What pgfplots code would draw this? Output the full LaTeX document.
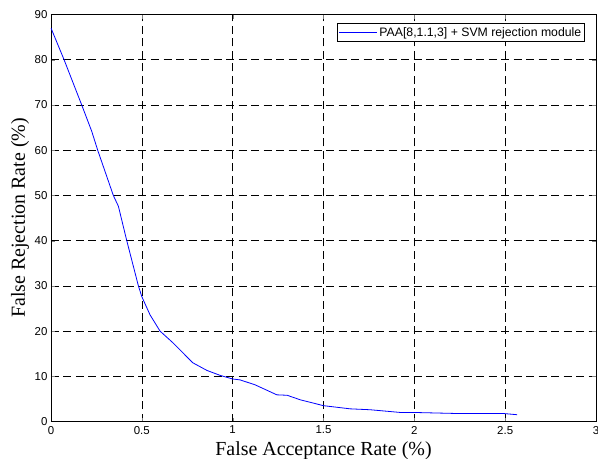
\documentclass[border=0pt]{standalone}
\usepackage{fontspec}
\setmainfont{Liberation Serif}
\newfontfamily\arial{Liberation Sans}
\usepackage{pgfplots}
\pgfplotsset{compat=1.18}

\begin{document}
\begin{tikzpicture}
\begin{axis}[
    scale only axis,
    width=545bp,
    height=407bp,
    xmin=0, xmax=3,
    ymin=0, ymax=90,
    xtick={0,0.5,1,1.5,2,2.5,3},
    ytick={0,10,...,90},
    /pgf/number format/assume math mode=true,
    tick label style={font=\arial\fontsize{11.5}{13}\selectfont},
    xticklabel style={yshift=-1bp},
    tick align=inside,
    major tick length=4bp,
    axis line style={black, line width=0.8bp},
    grid=major,
    grid style={black, line width=0.5bp, dash pattern=on 8bp off 4.5bp},
    xlabel={False Acceptance Rate (\%)},
    ylabel={False Rejection Rate (\%)},
    label style={font=\fontsize{20}{23}\selectfont},
    xlabel style={at={(axis description cs:0.5,0)}, anchor=center, yshift=-29bp},
    ylabel style={at={(axis description cs:0,0.5)}, anchor=center, yshift=31bp},
    legend style={at={(0.98,0.978)}, anchor=north east, font=\arial\fontsize{12.3}{14}\selectfont,
        draw=black, line width=0.8bp, inner sep=1.5bp, row sep=1bp},
    legend cell align=left,
    legend image code/.code={\draw[#1, line width=0.8bp] (0bp,0bp) -- (38bp,0bp);},
]
\addplot[blue, line width=0.8bp] coordinates {
(0,87) (0.072,80) (0.169,70) (0.224,64.2) (0.257,60) (0.343,50) (0.371,47.6)
(0.417,40) (0.481,30) (0.50,27.6) (0.545,23.6) (0.60,20) (0.674,17.3) (0.78,13.0)
(0.858,11.3) (0.931,10.2) (1.0,9.4) (1.041,9.2) (1.124,8.1) (1.243,5.9) (1.30,5.8)
(1.372,4.8) (1.50,3.5) (1.647,2.8) (1.757,2.6) (1.923,2.0) (1.996,2.0) (2.235,1.77)
(2.49,1.77) (2.566,1.5)
};
\addlegendentry{PAA[8,1.1,3] + SVM rejection module}
\end{axis}
\pgfresetboundingbox
\path (-51bp,-37.5bp) rectangle (547bp,421.5bp);
\end{tikzpicture}
\end{document}
